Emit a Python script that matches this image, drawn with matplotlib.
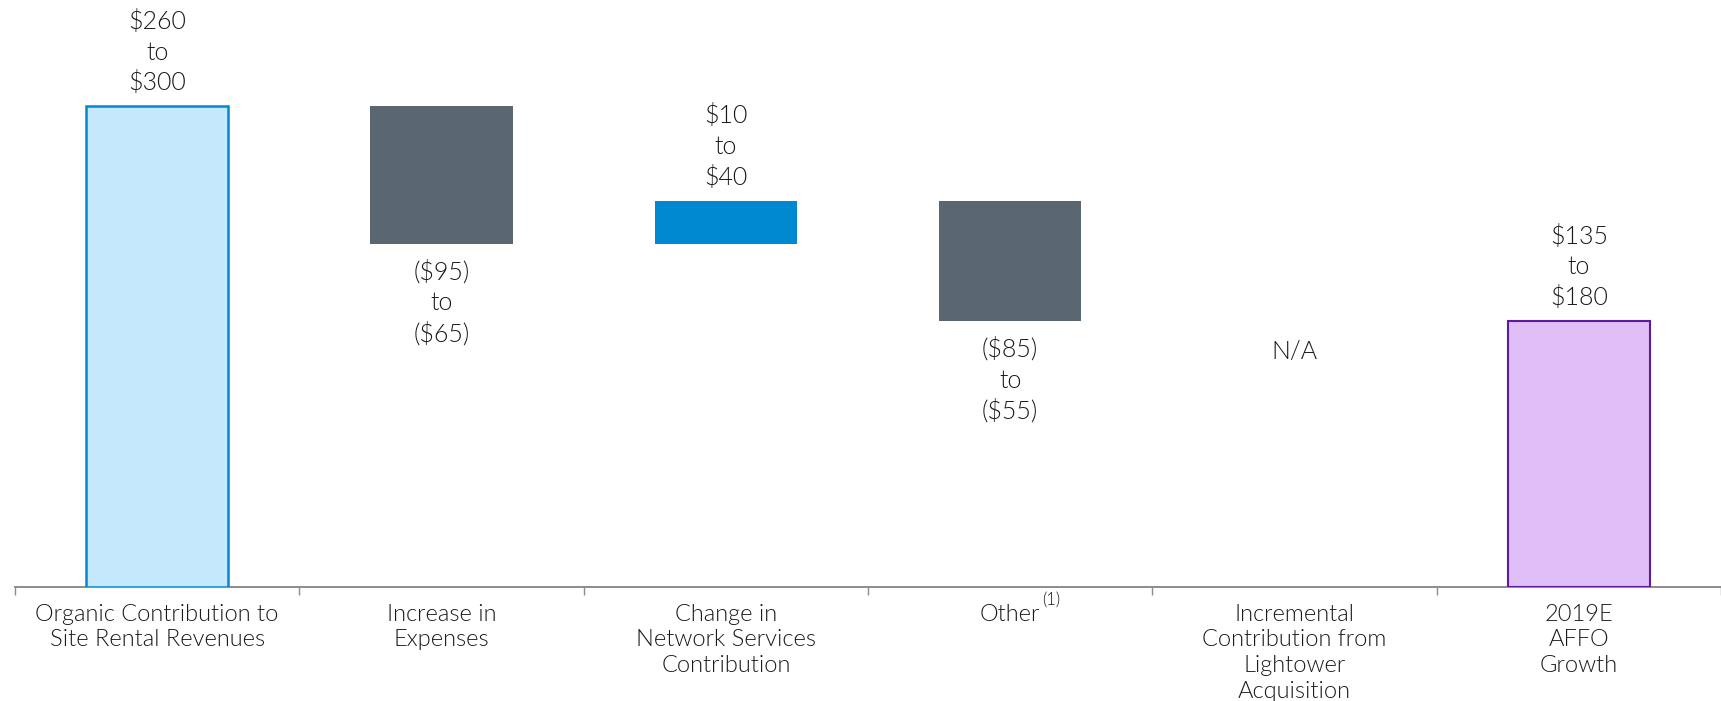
import matplotlib
matplotlib.use('Agg')
import matplotlib.pyplot as plt

categories = ['Organic Contribution to\nSite Rental Revenues', 'Increase in\nExpenses',
              'Change in\nNetwork Services\nContribution', 'Other',
              'Incremental\nContribution from\nLightower\nAcquisition', '2019E\nAFFO\nGrowth']
# midpoints of the guidance ranges ($ millions)
values = [280, -80, 25, -70, 0, 155]
kinds = ['total', 'delta', 'delta', 'delta', 'na', 'total']
range_labels = ['$260\nto\n$300', '($95)\nto\n($65)', '$10\nto\n$40',
                '($85)\nto\n($55)', 'N/A', '$135\nto\n$180']

fills = ['#C5E8FC', '#5A6670', '#0088D1', '#5A6670', 'none', '#DFBFF5']
edges = ['#0088D1', '#5A6670', '#0088D1', '#5A6670', 'none', '#5C1A9E']
edge_w = [1.8, 0, 0, 0, 0, 1.5]

plt.rcParams['font.family'] = ['Lato', 'DejaVu Sans']
plt.rcParams['font.weight'] = 300
txt = '#1A1A1A'

fig = plt.figure(figsize=(17.21, 7.01), dpi=100)
ax = fig.add_axes([15 / 1721, 114 / 701, 1 - 15 / 1721, 587 / 701])

running = 0
for i, (v, kind) in enumerate(zip(values, kinds)):
    if kind == 'total':
        bottom, height = 0, v
        running = v
    elif kind == 'delta':
        bottom = running if v > 0 else running + v
        height = abs(v)
        running += v
    else:
        ax.annotate(range_labels[i], xy=(i, running), xytext=(0, -14),
                    textcoords='offset points', ha='center', va='top',
                    fontsize=18, color=txt, parse_math=False)
        continue
    ax.bar(i, height, bottom=bottom, width=0.5, color=fills[i],
           edgecolor=edges[i], linewidth=edge_w[i], zorder=3)
    if kind == 'delta' and v < 0:
        ax.annotate(range_labels[i], xy=(i, bottom), xytext=(0, -12),
                    textcoords='offset points', ha='center', va='top',
                    fontsize=18, color=txt, linespacing=1.35, parse_math=False)
    else:
        ax.annotate(range_labels[i], xy=(i, bottom + height), xytext=(0, 8),
                    textcoords='offset points', ha='center', va='bottom',
                    fontsize=18, color=txt, linespacing=1.35, parse_math=False)

ax.set_xlim(-0.5, -0.5 + 1706 / 286)
ax.set_ylim(0, 342)

for s in ['top', 'right', 'left']:
    ax.spines[s].set_visible(False)
ax.spines['bottom'].set_color('#8C8C8C')
ax.spines['bottom'].set_linewidth(1.4)
ax.set_yticks([])

n = len(categories)
ax.set_xticks([i - 0.5 for i in range(n + 1)])
ax.set_xticklabels([])
ax.tick_params(axis='x', which='major', length=6, width=1, color='#8C8C8C', direction='out')
ax.set_xticks(range(n), minor=True)
ax.set_xticklabels(categories, minor=True, fontsize=17, color=txt, linespacing=1.28)
ax.tick_params(axis='x', which='minor', length=0, pad=12)

# footnote marker next to "Other"
ax.annotate('(1)', xy=(3, 0), xycoords=('data', 'axes fraction'), xytext=(23, -9),
            textcoords='offset points', ha='left', va='center', fontsize=12, color=txt)

fig.savefig('out.png', dpi=100)
